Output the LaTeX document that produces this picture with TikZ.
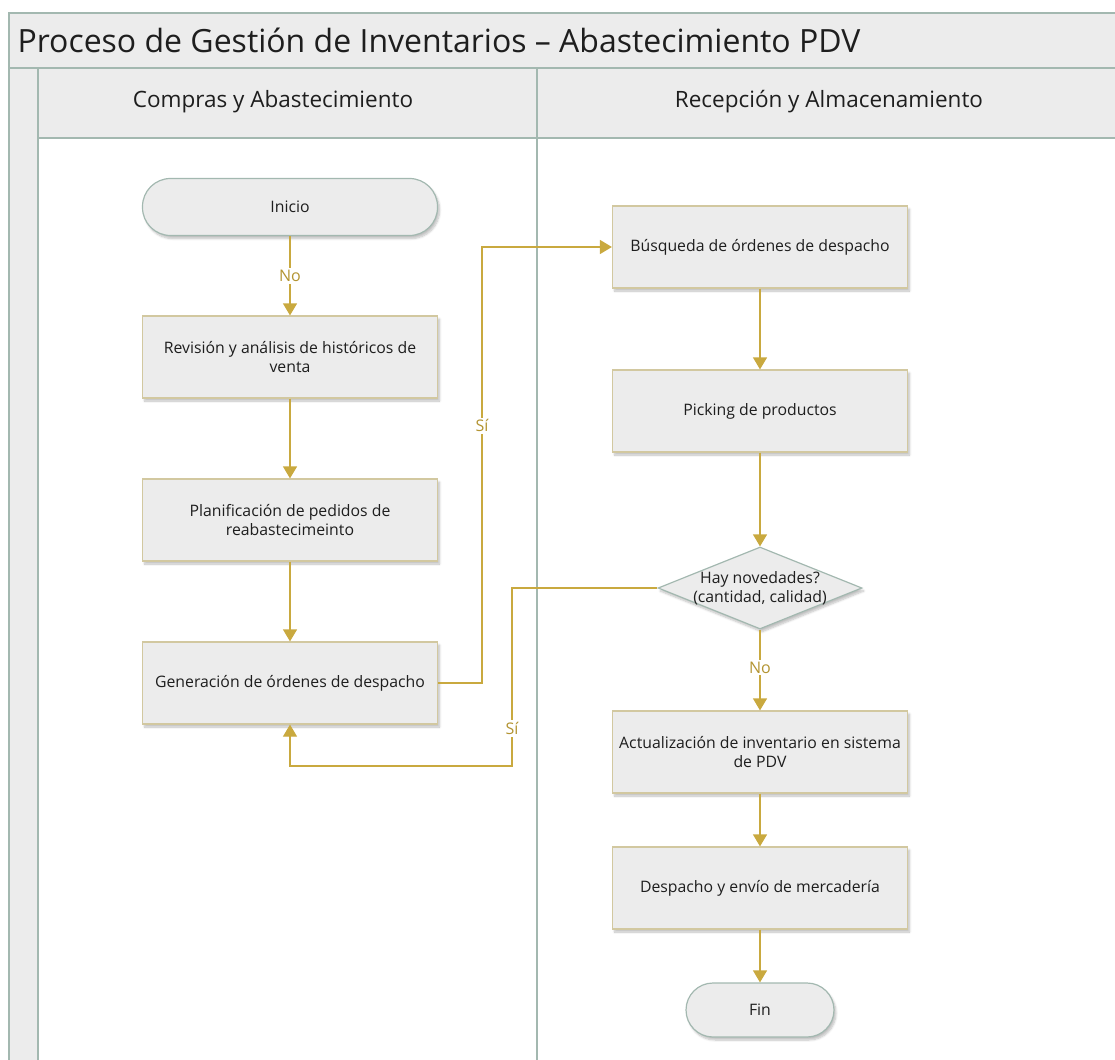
\documentclass[tikz,border=0pt]{standalone}
\usepackage{fontspec}
\setmainfont{Open Sans}
\usetikzlibrary{shapes.geometric, arrows.meta, shadows.blur}
\definecolor{lane}{HTML}{A3B8B0}
\definecolor{gold}{HTML}{C9A93F}
\definecolor{goldtext}{HTML}{B39432}
\definecolor{boxline}{HTML}{D2C8A0}
\definecolor{boxfill}{HTML}{ECECEC}
\definecolor{ink}{HTML}{1E1E1E}

\begin{document}
\begin{tikzpicture}[x=1pt, y=-1pt,
    shade/.style={blur shadow={shadow xshift=2pt, shadow yshift=-3pt, shadow blur steps=6, shadow opacity=25}},
    proc/.style={draw=boxline, line width=1.2pt, fill=boxfill, shade, minimum width=295pt, minimum height=82pt, align=center, text=ink, font=\fontsize{15.8}{19}\selectfont},
    term/.style={draw=lane, line width=1.2pt, fill=boxfill, shade, minimum width=295pt, minimum height=57pt, rounded corners=28pt, text=ink, font=\fontsize{15.8}{19}\selectfont},
    decide/.style={diamond, draw=lane, line width=1.2pt, fill=boxfill, shade, minimum width=204pt, minimum height=82pt, aspect=2.5, inner xsep=-12pt, inner ysep=0pt, align=center, text=ink, font=\fontsize{15.8}{19}\selectfont},
    flow/.style={draw=gold, line width=1.2pt, -{Triangle[length=12pt, width=14pt]}},
    tag/.style={fill=white, text=goldtext, inner sep=2pt, font=\fontsize{16}{19}\selectfont}]
    \useasboundingbox (0, 0) rectangle (1115, 1059);
    \clip (0, 0) rectangle (1115, 1059);

    % pool and lanes
    \fill[boxfill] (9, 13) rectangle (1120, 68);
    \fill[boxfill] (9, 68) rectangle (38, 1065);
    \fill[boxfill] (38, 68) rectangle (1120, 138);
    \draw[lane, line width=1.2pt] (9, 1065)--(9, 13)--(1120, 13);
    \draw[lane, line width=1.2pt] (9, 68)--(1120, 68);
    \draw[lane, line width=1.2pt] (38, 68)--(38, 1065);
    \draw[lane, line width=1.2pt] (38, 138)--(1120, 138);
    \draw[lane, line width=1.2pt] (537, 68)--(537, 1065);
    \node[anchor=west, text=ink, font=\fontsize{32}{36}\selectfont] (title) at (14, 40){Proceso de Gestión de Inventarios – Abastecimiento PDV};
    \node[text=ink, font=\fontsize{22.5}{26}\selectfont] (laneA) at (273, 102){Compras y Abastecimiento};
    \node[text=ink, font=\fontsize{22.5}{26}\selectfont] (laneB) at (829, 102){Recepción y Almacenamiento};

    % left lane
    \node[term] (inicio) at (290, 207){Inicio};
    \node[proc] (revision) at (290, 357){Revisión y análisis de históricos de\\venta};
    \node[proc] (planif) at (290, 520){Planificación de pedidos de\\reabastecimeinto};
    \node[proc] (generar) at (290, 683){Generación de órdenes de despacho};

    % right lane
    \node[proc] (busqueda) at (760, 247){Búsqueda de órdenes de despacho};
    \node[proc] (picking) at (760, 411){Picking de productos};
    \node[decide] (novedad) at (760, 588){Hay novedades?\\(cantidad, calidad)};
    \node[proc] (actual) at (760, 752){Actualización de inventario en sistema\\de PDV};
    \node[proc] (despacho) at (760, 888){Despacho y envío de mercadería};
    \node[term, minimum width=148pt, minimum height=54pt, rounded corners=27pt] (fin) at (760, 1010){Fin};

    \draw[flow] (inicio)--node[tag] (no1){No} (revision);
    \draw[flow] (revision)--(planif);
    \draw[flow] (planif)--(generar);
    \draw[flow] (generar.east)--(482, 683)--node[tag, pos=0.59] (si1){Sí} (482, 247)--(busqueda.west);
    \draw[flow] (busqueda)--(picking);
    \draw[flow] (picking)--(novedad);
    \draw[flow] (novedad)--node[tag, pos=0.47] (no2){No} (actual);
    \draw[flow] (actual)--(despacho);
    \draw[flow] (despacho)--(fin);
    \draw[flow] (novedad.west)--(512, 588)--node[tag, pos=0.79] (si2){Sí} (512, 766)--(290, 766)--(generar.south);
\end{tikzpicture}
\end{document}
